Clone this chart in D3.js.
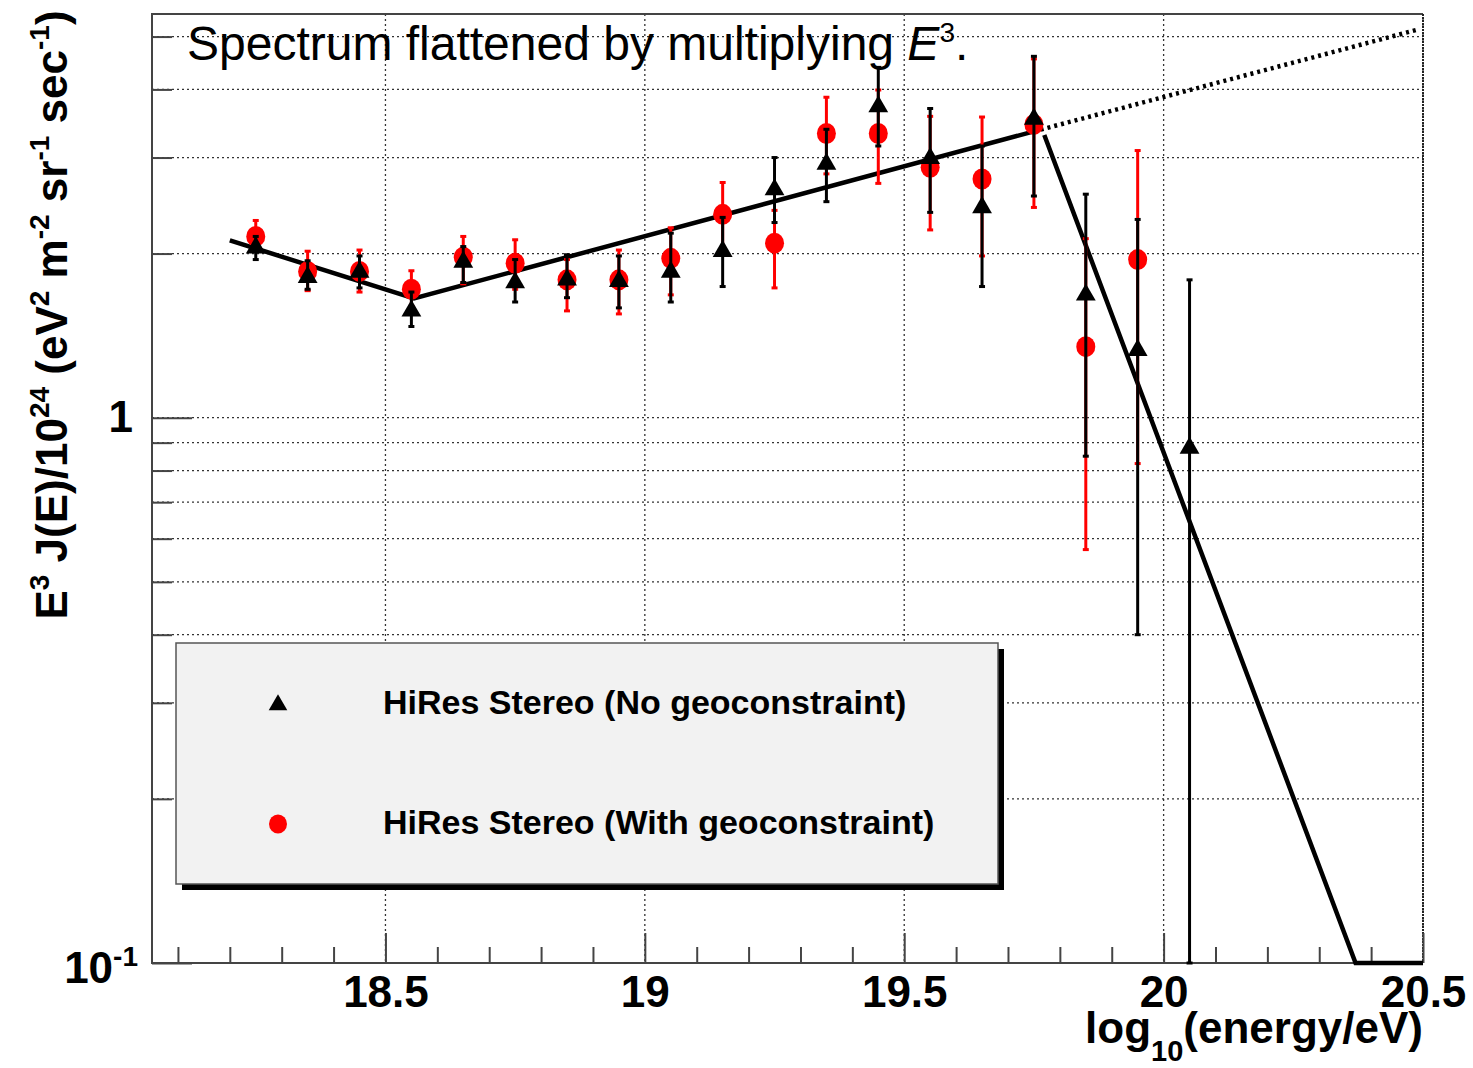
<!DOCTYPE html>
<html>
<head>
<meta charset="utf-8">
<script src="https://cdn.jsdelivr.net/npm/d3@7"></script>
<style>
  html, body { margin: 0; padding: 0; background: #fff; }
  svg { display: block; font-family: "Liberation Sans", Arial, sans-serif; }
</style>
</head>
<body>
<svg id="chart" width="1473" height="1068"></svg>
<script>
// ---------------- data ----------------
const energies = [18.25, 18.35, 18.45, 18.55, 18.65, 18.75, 18.85, 18.95, 19.05, 19.15,
                  19.25, 19.35, 19.45, 19.55, 19.65, 19.75, 19.85, 19.95, 20.05];

// HiRes Stereo (No geoconstraint) — black triangles
const noGeoVal = [2.05, 1.81, 1.85, 1.57, 1.93, 1.77, 1.79, 1.78, 1.85, 2.02,
                  2.62, 2.92, 3.72, 2.99, 2.43, 3.53, 1.68, 1.33, 0.88];
const noGeoHi  = [2.15, 1.94, 1.98, 1.70, 2.06, 1.95, 1.99, 1.98, 2.18, 2.33,
                  3.00, 3.38, 4.39, 3.69, 3.15, 4.60, 2.57, 2.31, 1.79];
const noGeoLo  = [1.95, 1.72, 1.73, 1.47, 1.77, 1.63, 1.66, 1.59, 1.63, 1.74,
                  2.28, 2.49, 3.15, 2.38, 1.74, 2.55, 0.85, 0.40, 0.05];

// HiRes Stereo (With geoconstraint) — red circles (no point at 20.05)
const geoVal = [2.15, 1.855, 1.855, 1.72, 1.97, 1.92, 1.79, 1.79, 1.96, 2.36,
                2.09, 3.32, 3.32, 2.88, 2.74, 3.45, 1.35, 1.95];
const geoHi  = [2.30, 2.02, 2.03, 1.86, 2.15, 2.12, 1.95, 2.03, 2.23, 2.70,
                2.40, 3.87, 3.99, 3.57, 3.56, 4.55, 2.13, 3.09];
const geoLo  = [2.02, 1.71, 1.70, 1.60, 1.76, 1.72, 1.57, 1.55, 1.68, 2.04,
                1.73, 2.80, 2.69, 2.21, 1.98, 2.43, 0.573, 0.824];

// broken power-law fit
const fitX   = [18.2, 18.555, 19.75];
const fitY   = [2.115, 1.655, 3.35];
const extX   = [19.75, 20.49];
const extY   = [3.35, 5.15];
const dropX  = [19.77, 20.37, 20.5];
const dropY  = [3.30, 0.1, 0.1];

// axes ticks
const xMajor = [18.5, 19, 19.5, 20, 20.5];
const xMinor = [18.1, 18.2, 18.3, 18.4, 18.6, 18.7, 18.8, 18.9, 19.1, 19.2, 19.3, 19.4,
                19.6, 19.7, 19.8, 19.9, 20.1, 20.2, 20.3, 20.4];
const yMajor = [0.1, 1];
const yMinor = [0.2, 0.3, 0.4, 0.5, 0.6, 0.7, 0.8, 0.9, 2, 3, 4, 5];

const legendLabels = ["HiRes Stereo (No geoconstraint)", "HiRes Stereo (With geoconstraint)"];
const titleText = "Spectrum flattened by multiplying ";

// ---------------- layout ----------------
const L = 152, R = 1423, T = 14, B = 963;
const svg = d3.select("#chart");
const x = d3.scaleLinear().domain([18.05, 20.5]).range([L, R]);
const y = d3.scaleLog().domain([0.1, 5.5]).range([B, T]).clamp(true);

svg.append("rect").attr("width", 1473).attr("height", 1068).attr("fill", "#fff");

// grid
const grid = svg.append("g").attr("stroke", "#333").attr("stroke-width", 1.3)
  .attr("stroke-dasharray", "2,3").attr("fill", "none");
grid.selectAll("line.h").data(yMinor.concat([1])).join("line")
  .attr("x1", L).attr("x2", R).attr("y1", d => y(d)).attr("y2", d => y(d));
grid.selectAll("line.v").data(xMajor).join("line")
  .attr("y1", T).attr("y2", B).attr("x1", d => x(d)).attr("x2", d => x(d));

// frame
svg.append("path").attr("d", `M${R},${T}H${L}V${B}H${R}`)
  .attr("fill", "none").attr("stroke", "#444").attr("stroke-width", 2);
svg.append("line").attr("x1", R).attr("x2", R).attr("y1", T).attr("y2", B)
  .attr("stroke", "#222").attr("stroke-width", 2).attr("stroke-dasharray", "2,1");

// x axes
const fontFam = '"Liberation Sans", Arial, sans-serif';
const xMaj = svg.append("g").attr("transform", `translate(0,${B})`)
  .call(d3.axisBottom(x).tickValues(xMajor).tickSize(-30).tickPadding(13).tickFormat(d3.format("")));
const xMin = svg.append("g").attr("transform", `translate(0,${B})`)
  .call(d3.axisBottom(x).tickValues(xMinor).tickSize(-16).tickFormat(""));
[xMaj, xMin].forEach(g => {
  g.select(".domain").remove();
  g.selectAll(".tick line").attr("stroke", "#444").attr("stroke-width", 2);
});
xMaj.selectAll(".tick text").attr("font-family", fontFam).attr("font-size", 44)
  .attr("font-weight", "bold").attr("fill", "#000");

// y axes
const yMaj = svg.append("g").attr("transform", `translate(${L},0)`)
  .call(d3.axisLeft(y).tickValues(yMajor).tickSize(-40).tickPadding(19).tickFormat(d3.format("")));
const yMin = svg.append("g").attr("transform", `translate(${L},0)`)
  .call(d3.axisLeft(y).tickValues(yMinor).tickSize(-20).tickFormat(""));
[yMaj, yMin].forEach(g => {
  g.select(".domain").remove();
  g.selectAll(".tick line").attr("stroke", "#444").attr("stroke-width", 2);
});
yMaj.selectAll(".tick text").attr("font-family", fontFam).attr("font-size", 44)
  .attr("font-weight", "bold").attr("fill", "#000")
  .each(function(d) {
    const t = d3.select(this);
    if (d === 0.1) {
      t.text("").attr("x", -14).attr("dy", "0.45em");
      t.append("tspan").text("10");
      t.append("tspan").attr("font-size", 28).attr("dy", -17).text("-1");
    }
  });

// axis titles
const yt = svg.append("text").attr("transform", "translate(67,315) rotate(-90)")
  .attr("text-anchor", "middle").attr("font-family", fontFam).attr("font-size", 44)
  .attr("font-weight", "bold").attr("fill", "#000");
const yParts = [["E", "3"], [" J(E)/10", "24"], [" (eV", "2"], [" m", "-2"], [" sr", "-1"], [" sec", "-1"], [")", null]];
let shifted = false;
yParts.forEach(([base, sup]) => {
  yt.append("tspan").attr("dy", shifted ? 18 : 0).text(base);
  shifted = false;
  if (sup) {
    yt.append("tspan").attr("font-size", 28).attr("dy", -18).text(sup);
    shifted = true;
  }
});

const xt = svg.append("text").attr("x", R).attr("y", 1043).attr("text-anchor", "end")
  .attr("font-family", fontFam).attr("font-size", 44).attr("font-weight", "bold").attr("fill", "#000");
xt.append("tspan").text("log");
xt.append("tspan").attr("font-size", 29).attr("dy", 18).text("10");
xt.append("tspan").attr("dy", -18).text("(energy/eV)");

// legend
const lg = svg.append("g");
lg.append("rect").attr("x", 182).attr("y", 649).attr("width", 822).attr("height", 241).attr("fill", "#000");
lg.append("rect").attr("x", 176).attr("y", 643).attr("width", 822).attr("height", 241)
  .attr("fill", "#f2f2f2").attr("stroke", "#555").attr("stroke-width", 1.5);

// error bars + markers
const capW = 3;
function drawBars(g, xs, lo, hi, color) {
  const n = lo.length;
  const idx = d3.range(n);
  g.append("g").selectAll("line").data(idx).join("line")
    .attr("x1", i => x(xs[i])).attr("x2", i => x(xs[i]))
    .attr("y1", i => y(lo[i])).attr("y2", i => y(hi[i]))
    .attr("stroke", color).attr("stroke-width", 3);
  g.append("g").selectAll("line").data(idx).join("line")
    .attr("x1", i => x(xs[i]) - capW).attr("x2", i => x(xs[i]) + capW)
    .attr("y1", i => y(hi[i])).attr("y2", i => y(hi[i]))
    .attr("stroke", color).attr("stroke-width", 3);
  g.append("g").selectAll("line").data(idx).join("line")
    .attr("x1", i => x(xs[i]) - capW).attr("x2", i => x(xs[i]) + capW)
    .attr("y1", i => y(lo[i])).attr("y2", i => y(lo[i]))
    .attr("stroke", color).attr("stroke-width", 3);
}
const tri = d3.symbol().type(d3.symbolTriangle).size(170);

// fit lines
const line = d3.line().x(d => x(d[0])).y(d => y(d[1]));
svg.append("path").datum(fitX.map((v, i) => [v, fitY[i]])).attr("d", line)
  .attr("fill", "none").attr("stroke", "#000").attr("stroke-width", 4.5);
svg.append("path").datum(extX.map((v, i) => [v, extY[i]])).attr("d", line)
  .attr("fill", "none").attr("stroke", "#000").attr("stroke-width", 4.5).attr("stroke-dasharray", "3,4");
svg.append("path").datum(dropX.map((v, i) => [v, dropY[i]])).attr("d", line)
  .attr("fill", "none").attr("stroke", "#000").attr("stroke-width", 4.5);

const gRed = svg.append("g");
drawBars(gRed, energies, geoLo, geoHi, "#ff0000");
gRed.append("g").selectAll("ellipse").data(geoVal).join("ellipse")
  .attr("cx", (d, i) => x(energies[i])).attr("cy", d => y(d))
  .attr("rx", 9.5).attr("ry", 10.5).attr("fill", "#ff0000");

const gBlk = svg.append("g");
drawBars(gBlk, energies, noGeoLo, noGeoHi, "#000");
gBlk.append("g").selectAll("path").data(noGeoVal).join("path")
  .attr("d", tri).attr("transform", (d, i) => `translate(${x(energies[i])},${y(d)})`)
  .attr("fill", "#000");

// legend entries
lg.append("path").attr("d", d3.symbol().type(d3.symbolTriangle).size(150))
  .attr("transform", "translate(278,705)").attr("fill", "#000");
lg.append("ellipse").attr("cx", 278).attr("cy", 824).attr("rx", 9).attr("ry", 9.5).attr("fill", "#ff0000");
lg.selectAll("text.lab").data(legendLabels).join("text")
  .attr("x", 383).attr("y", (d, i) => 714 + i * 120)
  .attr("font-family", fontFam).attr("font-size", 34).attr("font-weight", "bold").attr("fill", "#000")
  .text(d => d);

// title
const tt = svg.append("text").attr("x", 187).attr("y", 60)
  .attr("font-family", fontFam).attr("font-size", 48).attr("fill", "#000");
tt.append("tspan").text(titleText);
tt.append("tspan").attr("font-style", "italic").text("E");
tt.append("tspan").attr("font-size", 28).attr("dy", -18).text("3");
tt.append("tspan").attr("dy", 18).text(".");
</script>
</body>
</html>
